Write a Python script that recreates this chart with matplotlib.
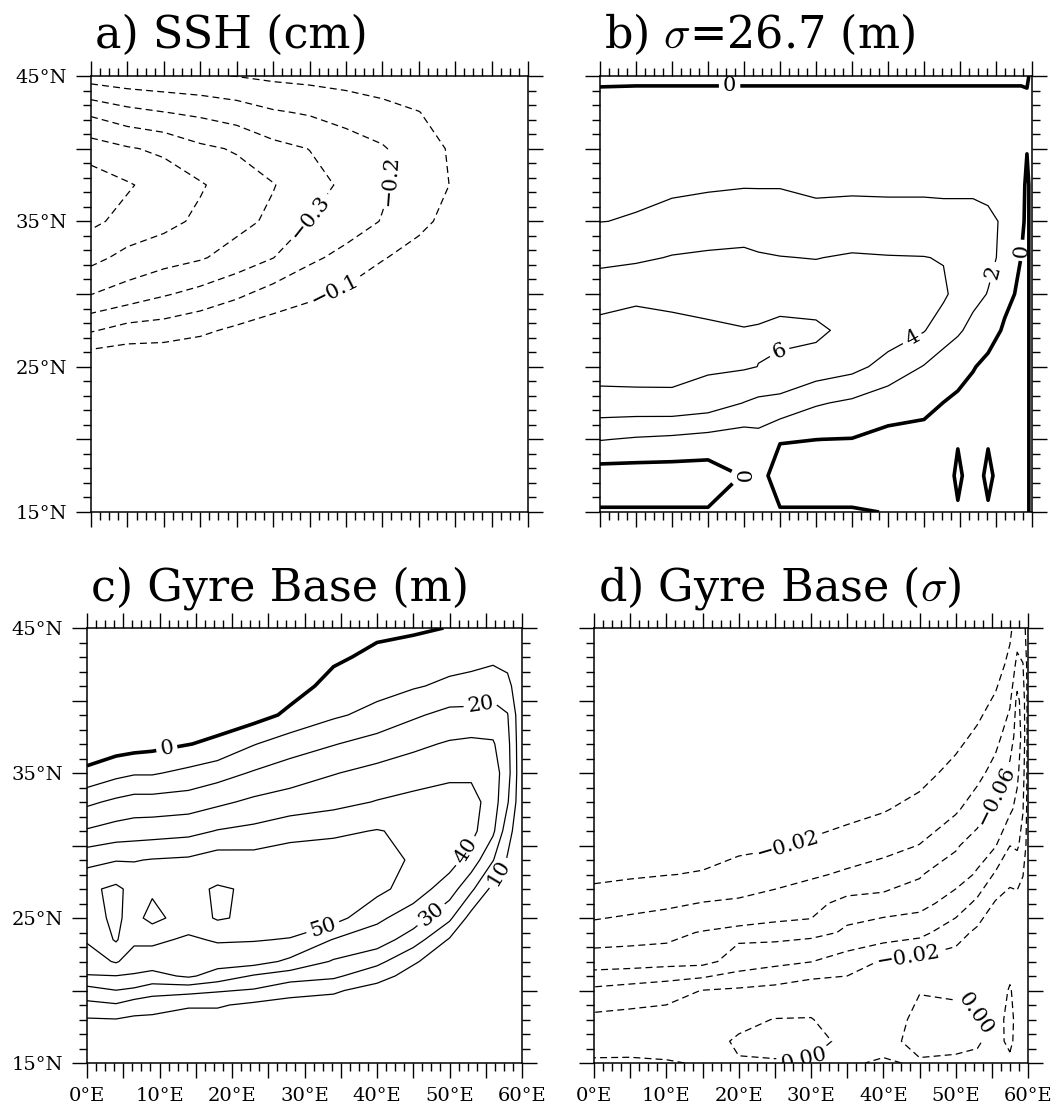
import numpy as np
import matplotlib
matplotlib.use("Agg")
import matplotlib.pyplot as plt
from matplotlib.ticker import MultipleLocator, FuncFormatter

plt.rcParams["font.family"] = ["DejaVu Serif"]
plt.rcParams["mathtext.fontset"] = "cm"
plt.rcParams["lines.scale_dashes"] = False

# every field: one list per longitude, values from 15N up to 45N

# a) SSH (cm)
ssh_lon = [0, 5, 10, 15, 20, 25, 30, 35, 40, 45, 50, 55, 60]
ssh_lat = [15, 17.5, 20, 22.5, 25, 27.5, 30, 32.5, 35, 37.5, 40, 42.5, 45]
ssh_cols = [
    [0, 0, 0, 0, 0, -0.21, -0.402, -0.53, -0.62, -0.66, -0.55, -0.38, -0.15],
    [0, 0, 0, 0, 0, -0.16, -0.36, -0.47, -0.57, -0.61, -0.51, -0.33, -0.13],
    [0, 0, 0, 0, 0, -0.15, -0.31, -0.44, -0.53, -0.56, -0.48, -0.302, -0.12],
    [0, 0, 0, 0, 0, -0.12, -0.27, -0.41, -0.48, -0.51, -0.42, -0.28, -0.11],
    [0, 0, 0, 0, 0, -0.08, -0.22, -0.36, -0.43, -0.45, -0.39, -0.25, -0.098],
    [0, 0, 0, 0, 0, -0.05, -0.16, -0.302, -0.38, -0.405, -0.33, -0.21, -0.08],
    [0, 0, 0, 0, 0, -0.03, -0.12, -0.22, -0.298, -0.34, -0.298, -0.19, -0.07],
    [0, 0, 0, 0, 0, -0.02, -0.08, -0.17, -0.25, -0.28, -0.25, -0.16, -0.06],
    [0, 0, 0, 0, 0, -0.01, -0.05, -0.105, -0.195, -0.215, -0.21, -0.13, -0.05],
    [0, 0, 0, 0, 0, 0, -0.03, -0.07, -0.12, -0.15, -0.14, -0.102, -0.04],
    [0, 0, 0, 0, 0, 0, -0.02, -0.04, -0.07, -0.09, -0.085, -0.06, -0.03],
    [0, 0, 0, 0, 0, 0, -0.01, -0.02, -0.03, -0.04, -0.04, -0.03, -0.02],
    [0, 0, 0, 0, 0, 0, 0, 0, -0.01, -0.01, -0.01, -0.01, -0.01],
]
ssh_levels = [-0.6, -0.5, -0.4, -0.3, -0.2, -0.1]
ssh_labels = [(-0.1, 33.5, 30.2), (-0.2, 41.0, 37.8), (-0.3, 30.5, 35.1)]

# b) sigma=26.7 depth (m)
iso_lon = [0, 5, 10, 15, 20, 22, 25, 30, 35, 40, 45, 47.7, 49.7, 51.8, 53.9, 56.2, 58.5, 59.3, 60]
iso_lat = [15, 17.5, 20, 22.5, 25, 27.5, 30, 32.5, 35, 37.5, 40, 42.5, 45]
iso_cols = [
    [0.15, -1.0, 2.1, 5.3, 6.8, 6.6, 5.2, 3.5, 1.97, 1.5, 1.1, 0.7, -0.3],
    [0.15, -1.0, 1.8, 5.3, 6.9, 6.8, 5.6, 3.7, 2.1, 1.7, 1.3, 0.8, -0.3],
    [0.15, -1.0, 1.6, 5.4, 6.8, 6.5, 5.5, 4.1, 2.7, 1.6, 1.3, 0.8, -0.3],
    [0.15, -1.0, 1.3, 5.0, 6.3, 6.3, 5.3, 4.3, 2.8, 1.8, 1.3, 0.8, -0.3],
    [0.3, 0.1, 1.0, 3.95, 6.2, 6.1, 5.0, 4.4, 3.0, 1.9, 1.3, 0.8, -0.3],
    [0.5, 0.8, 1.3, 3.6, 5.98, 6.2, 5.0, 4.2, 2.9, 1.9, 1.3, 0.8, -0.3],
    [0.15, -1.0, 0.14, 3.46, 5.6, 6.5, 5.2, 4.05, 2.9, 1.9, 1.3, 0.8, -0.3],
    [0.15, -1.0, 0.01, 2.2, 5.2, 6.4, 5.0, 3.95, 2.7, 1.6, 1.2, 0.8, -0.3],
    [0.15, -1.0, -0.05, 1.65, 4.6, 5.4, 5.2, 4.2, 2.7, 1.7, 1.2, 0.8, -0.3],
    [-0.05, -1.0, -0.5, 0.85, 3.3, 5.0, 5.1, 4.1, 2.6, 1.7, 1.2, 0.8, -0.3],
    [-0.5, -1.0, -0.6, 0.5, 1.9, 4.1, 4.6, 4.05, 2.6, 1.7, 1.2, 0.8, -0.3],
    [-0.5, -1.2, -0.8, -0.02, 1.1, 2.9, 4.35, 3.9, 2.5, 1.7, 1.2, 0.8, -0.3],
    [-0.2, 0.42, -0.15, -0.5, 1.0, 2.2, 3.3, 3.3, 2.5, 1.7, 1.2, 0.8, -0.3],
    [-0.5, -1.0, -0.8, -0.9, 0.15, 1.6, 2.4, 2.8, 2.5, 1.7, 1.2, 0.8, -0.3],
    [-0.2, 0.42, -0.15, -1.0, -0.6, 1.0, 1.95, 2.3, 2.3, 1.6, 1.2, 0.8, -0.3],
    [-0.5, -1.0, -1.0, -1.0, -0.8, -0.3, 0.6, 1.7, 1.8, 1.5, 1.2, 0.8, -0.3],
    [-0.5, -1.0, -1.0, -1.0, -1.0, -0.8, -0.4, -0.02, 0.3, 0.5, 0.8, 0.8, -0.3],
    [-0.3, -0.3, -0.3, -0.3, -0.3, -0.3, -0.3, -0.3, -0.3, -0.3, 0.05, 0.6, -0.3],
    [0.5, 0.5, 0.5, 0.5, 0.5, 0.5, 0.5, 0.5, 0.5, 0.5, 0.5, 0.5, 0.5],
]
iso_levels = [0, 2, 4, 6]
iso_labels = [(0, 18.0, 44.3), (2, 54.5, 31.5), (4, 43.4, 26.9),
              (6, 25.2, 25.8), (0, 58.6, 33.0), (0, 19.6, 17.4)]

# c) gyre base (m)
gbm_lon = [0, 4, 6.5, 9, 14, 18, 23, 28, 34, 40, 45, 50, 53, 56, 58, 60]
gbm_lat = [15, 17.5, 19, 20, 21, 22, 23.5, 25, 27, 29, 31, 33, 35, 37, 39, 41, 43, 45]
gbm_cols = [
    [2, 5, 17.5, 26, 39.5, 45, 51, 57, 58, 47, 31, 18, 2, -6, -10, -12, -14, -15],
    [2, 5, 19, 29.8, 39.8, 51, 61, 61.5, 62, 49.5, 34, 22, 7, -5, -11, -15, -18, -20],
    [2, 5, 15, 28, 39, 45, 52, 57, 57, 49.5, 35, 24, 9, -4, -10, -14, -17, -19],
    [2, 5, 14, 24, 37, 45, 52, 63, 58.5, 50.5, 35.5, 24, 9, -3, -9, -13, -16, -18],
    [2, 4, 11, 23, 41.5, 44, 48.5, 55, 58, 51.5, 37, 25, 12.5, -0.3, -7, -12, -15, -17],
    [2, 4, 11, 21, 36, 44, 51, 61, 60.8, 55, 40.5, 28, 16, 2, -5, -11, -14, -16],
    [2, 4, 8, 19, 29, 44, 50.5, 58, 59, 54, 42.5, 32, 21, 9.5, -4, -8, -11, -13],
    [2, 4, 7, 13, 25, 38, 49.5, 55, 58, 56, 46, 34.5, 25, 15, 2, -4, -7, -9],
    [2, 4, 7, 11, 22, 29, 39.5, 54, 57, 56, 48, 37, 29.5, 19.5, 8.5, 3, -1.5, -4],
    [2, 3, 5, 7, 13, 23, 35, 42, 53, 55, 50.5, 40.5, 33, 24, 13, 6.5, 2, -2],
    [2, 3, 4, 5, 7, 11, 25, 35, 45, 48.5, 48, 43, 35, 28, 18.5, 9, 3, -1],
    [2, 2, 3, 3, 4, 5, 9, 22, 35, 44, 46, 45, 37.5, 31, 23, 12, 6, 0.2],
    [3, 3, 4, 4, 5, 5, 6, 6, 22, 36, 43, 44, 38, 32, 23, 13, 7, 5],
    [3, 3, 3, 3, 3, 4, 5, 6, 7, 20.5, 32, 35, 35, 31, 24, 15, 8, 5],
    [2, 2, 2, 2, 2, 2, 3, 4, 6, 9, 14, 21, 24, 23, 20.5, 13, 6.3, 4],
    [2, 2, 2, 2, 2, 2, 2, 2, 2, 2, 2, 2, 2, 2, 2, 2, 2, 2],
]
gbm_levels = [0, 10, 20, 30, 40, 50, 60]
gbm_labels = [(0, 11.0, 36.7), (20, 54.2, 40.0), (10, 56.4, 28.2),
              (40, 52.3, 29.6), (30, 47.5, 25.2), (50, 32.5, 24.4)]

# d) gyre base (sigma)
gbs_lon = [0, 5, 10, 15, 20, 25, 30, 35, 40, 45, 50, 53, 55.5, 57.5, 58.5, 59.3, 60]
gbs_lat = [15, 16.5, 18, 20, 22, 24, 26, 28, 30, 32.5, 35, 37.5, 40, 42.5, 45]
gbs_cols = [
    [0.002, -0.0063, -0.0149, -0.0357, -0.070, -0.0484, -0.029, -0.0158, -0.0065, -0.004, -0.003, -0.002, -0.002, -0.002, -0.002],
    [0.002, -0.0056, -0.0133, -0.0317, -0.069, -0.0522, -0.0325, -0.0177, -0.0083, -0.0045, -0.003, -0.002, -0.002, -0.002, -0.002],
    [0.001, -0.0056, -0.0126, -0.0273, -0.067, -0.0559, -0.0362, -0.0195, -0.011, -0.005, -0.003, -0.002, -0.002, -0.002, -0.002],
    [-0.001, -0.006, -0.012, -0.0195, -0.066, -0.061, -0.0409, -0.0212, -0.013, -0.006, -0.003, -0.002, -0.002, -0.002, -0.002],
    [-0.001, 0.002, -0.004, -0.017, -0.0517, -0.065, -0.043, -0.027, -0.016, -0.007, -0.004, -0.003, -0.002, -0.002, -0.002],
    [-0.001, 0.004, 0.0005, -0.014, -0.0453, -0.067, -0.0478, -0.0319, -0.0181, -0.0066, -0.004, -0.003, -0.002, -0.002, -0.002],
    [-0.001, 0.004, 0.0005, -0.007, -0.0405, -0.065, -0.0545, -0.0371, -0.0229, -0.0102, -0.005, -0.003, -0.002, -0.002, -0.002],
    [-0.001, -0.003, -0.006, -0.01, -0.03, -0.058, -0.066, -0.043, -0.0283, -0.0139, -0.006, -0.0035, -0.0025, -0.002, -0.002],
    [0.001, -0.003, -0.006, -0.011, -0.018, -0.0524, -0.067, -0.049, -0.0333, -0.0186, -0.0075, -0.004, -0.003, -0.002, -0.002],
    [-0.001, 0.003, 0.003, -0.0005, -0.0145, -0.046, -0.066, -0.059, -0.0405, -0.0261, -0.0135, -0.006, -0.004, -0.003, -0.002],
    [-0.002, 0.003, 0.002, -0.001, -0.0119, -0.0277, -0.052, -0.068, -0.058, -0.0369, -0.0258, -0.0144, -0.006, -0.004, -0.003],
    [-0.002, 0.001, 0.0005, -0.003, -0.008, -0.016, -0.035, -0.058, -0.068, -0.0511, -0.0339, -0.0237, -0.0125, -0.006, -0.004],
    [-0.003, -0.003, -0.004, -0.006, -0.009, -0.013, -0.018, -0.0373, -0.0612, -0.067, -0.0478, -0.0332, -0.0226, -0.0111, -0.005],
    [-0.002, 0.002, 0.003, 0.001, -0.004, -0.01, -0.015, -0.024, -0.0402, -0.0636, -0.0647, -0.0509, -0.0371, -0.0249, -0.016],
    [-0.003, -0.003, -0.003, -0.004, -0.007, -0.011, -0.016, -0.0247, -0.0432, -0.0545, -0.064, -0.068, -0.065, -0.045, -0.03],
    [-0.003, -0.003, -0.003, -0.004, -0.006, -0.009, -0.013, -0.0205, -0.032, -0.041, -0.048, -0.055, -0.052, -0.0405, -0.028],
    [-0.003, -0.003, -0.003, -0.004, -0.006, -0.008, -0.01, -0.01, -0.012, -0.012, -0.012, -0.012, -0.012, -0.012, -0.01],
]
gbs_levels = [-0.06, -0.04, -0.02, 0.0]
gbs_labels = [(-0.02, 26.8, 30.1), (-0.06, 55.8, 33.4), (-0.02, 43.4, 22.5),
              (0.0, 29.0, 15.4), (0.0, 52.8, 18.4)]

DASH = (0, (5, 3))


def fmt1(v):
    return f"{v:.1f}".replace("-", "\u2212")


def fmt2(v):
    return f"{v:.2f}".replace("-", "\u2212")


def fmt0(v):
    return f"{v:.0f}"


def lon_label(v, pos):
    k = int(round(v))
    return f"{k}°E" if k % 10 == 0 else ""


def lat_label(v, pos):
    k = int(round(v))
    return f"{k}°N" if k % 10 == 5 else ""


fig = plt.figure(figsize=(10.55, 11.14), dpi=100)
W, H = 1055.0, 1114.0


def panel(x0, y0, w, h, title, bottom_labels, left_labels):
    ax = fig.add_axes([x0 / W, 1 - (y0 + h) / H, w / W, h / H])
    ax.set_xlim(0, 60)
    ax.set_ylim(15, 45)
    ax.xaxis.set_major_locator(MultipleLocator(5))
    ax.xaxis.set_minor_locator(MultipleLocator(1.25))
    ax.yaxis.set_major_locator(MultipleLocator(5))
    ax.yaxis.set_minor_locator(MultipleLocator(1))
    ax.xaxis.set_major_formatter(FuncFormatter(lon_label))
    ax.yaxis.set_major_formatter(FuncFormatter(lat_label))
    ax.tick_params(which="both", direction="out", top=True, right=True,
                   labelbottom=bottom_labels, labelleft=left_labels,
                   labelsize=14, width=1.0)
    ax.tick_params(which="major", length=11, pad=6)
    ax.tick_params(which="minor", length=5.5)
    for s in ax.spines.values():
        s.set_linewidth(1.1)
    ax.text(4 / w, 1 + 28 / h, title, transform=ax.transAxes, ha="left",
            va="baseline", fontsize=32)
    return ax


def draw_field(ax, lon, lat, cols, levels, widths, styles, fmt, labels):
    z = np.array(cols).T
    # one contour set per level, so each label lands on its own level
    for lev, lw, ls in zip(levels, widths, styles):
        cs = ax.contour(lon, lat, z, levels=[lev], colors="k",
                        linewidths=lw, linestyles=[ls])
        spots = [(x, y) for v, x, y in labels if v == lev]
        if spots:
            ax.clabel(cs, manual=spots, fmt=fmt, inline=True,
                      inline_spacing=4, fontsize=15)


ax_a = panel(91, 76, 437, 436, "a) SSH (cm)", False, True)
draw_field(ax_a, ssh_lon, ssh_lat, ssh_cols, ssh_levels,
           [0.9] * len(ssh_levels), [DASH] * len(ssh_levels), fmt1, ssh_labels)

ax_b = panel(600, 76, 432, 436, r"b) $\sigma$=26.7 (m)", False, False)
draw_field(ax_b, iso_lon, iso_lat, iso_cols, iso_levels,
           [2.6, 0.9, 0.9, 0.9], ["solid"] * 4, fmt0, iso_labels)

ax_c = panel(87, 628, 435, 435, "c) Gyre Base (m)", True, True)
draw_field(ax_c, gbm_lon, gbm_lat, gbm_cols, gbm_levels,
           [2.6] + [0.9] * 6, ["solid"] * 7, fmt0, gbm_labels)

ax_d = panel(594, 628, 434, 435, r"d) Gyre Base ($\sigma$)", True, False)
draw_field(ax_d, gbs_lon, gbs_lat, gbs_cols, gbs_levels,
           [0.9] * 4, [DASH] * 4, fmt2, gbs_labels)

fig.savefig("out.png", dpi=100)
